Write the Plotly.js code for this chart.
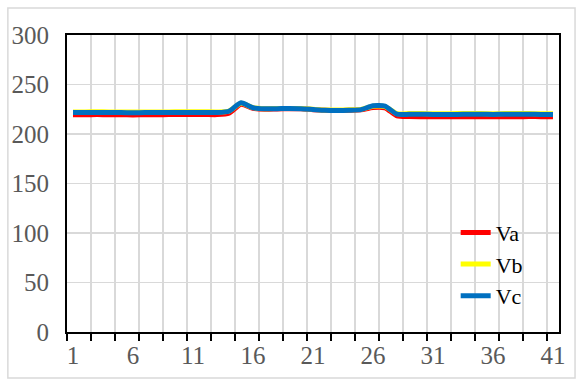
<!DOCTYPE html>
<html>
<head>
<meta charset="utf-8">
<script src="https://cdn.plot.ly/plotly-3.0.1.min.js"></script>
<style>
html,body{margin:0;padding:0;background:#fff;}
#chart{width:577px;height:381px;}
</style>
</head>
<body>
<div id="chart"></div>
<script>
var categories = [1,2,3,4,5,6,7,8,9,10,11,12,13,14,15,16,17,18,19,20,21,22,23,24,25,26,27,28,29,30,31,32,33,34,35,36,37,38,39,40,41];
var tickLabels = ['1','6','11','16','21','26','31','36','41'];
var tickPositions = [1,6,11,16,21,26,31,36,41];
var Va = [219.5,219.5,219.6,219.5,219.4,219.3,219.4,219.5,219.6,219.6,219.7,219.7,219.6,221.0,230.0,226.0,225.0,225.3,225.5,225.4,224.6,224.0,223.8,224.0,224.5,226.8,226.5,218.2,217.6,217.5,217.5,217.4,217.4,217.5,217.5,217.4,217.5,217.5,217.6,217.5,217.4];
var Vb = [222.3,222.3,222.4,222.3,222.2,222.2,222.2,222.3,222.3,222.4,222.4,222.4,222.3,223.2,231.0,226.6,225.6,225.7,225.8,225.7,225.0,224.3,224.2,224.4,224.9,228.0,227.6,220.5,220.6,220.6,220.5,220.5,220.6,220.6,220.6,220.5,220.6,220.6,220.6,220.5,220.5];
var Vc = [221.6,221.7,221.8,221.8,221.6,221.5,221.6,221.6,221.6,221.7,221.8,221.8,221.7,223.0,231.5,226.5,225.5,225.6,225.8,225.6,224.8,224.0,223.8,224.0,224.6,228.6,228.2,220.0,219.9,219.9,219.8,219.8,219.8,219.9,219.9,219.8,219.9,219.9,219.9,219.8,219.8];
var seriesNames = ['Va','Vb','Vc'];
var seriesColors = ['#FF0000','#FFFF00','#0070C0'];
var seriesData = [Va, Vb, Vc];

var traces = seriesData.map(function(d, i){
  return {
    x: categories, y: d, type: 'scatter', mode: 'lines', name: seriesNames[i],
    line: {color: seriesColors[i], width: 5, shape: 'spline', smoothing: 0.6}
  };
});

var minorVals = [];
for (var k = 0; k <= 20; k++) minorVals.push(0.5 + 2*k);

var fontFam = 'Liberation Serif';
var layout = {
  width: 577, height: 381,
  margin: {l: 67, r: 18, t: 35, b: 49},
  paper_bgcolor: '#ffffff', plot_bgcolor: '#ffffff',
  font: {family: fontFam, size: 25, color: '#595959'},
  showlegend: true,
  legend: {x: 0.79, y: 0.405, xanchor: 'left', yanchor: 'top', bgcolor: 'rgba(0,0,0,0)',
           font: {family: fontFam, size: 22, color: '#000000'}, tracegroupgap: 0},
  xaxis: {
    range: [0.5, 41.5], tickmode: 'array', tickvals: tickPositions, ticktext: tickLabels,
    ticks: '', showgrid: false, zeroline: false,
    showline: true, linecolor: '#000000', linewidth: 2, mirror: true,
    tickfont: {family: fontFam, size: 25, color: '#595959'},
    minor: {tickmode: 'array', tickvals: minorVals, ticks: 'outside', ticklen: 7, tickwidth: 2,
            tickcolor: '#000000', showgrid: true, gridcolor: '#d9d9d9', gridwidth: 1.5}
  },
  yaxis: {
    range: [0, 300], dtick: 50, tick0: 0, ticks: '', showgrid: true, gridcolor: '#d9d9d9', gridwidth: 1.5,
    zeroline: false, showline: true, linecolor: '#000000', linewidth: 2, mirror: true,
    ticklabelstandoff: 11,
    tickfont: {family: fontFam, size: 25, color: '#595959'}
  },
  shapes: [{type: 'rect', xref: 'paper', yref: 'paper', x0: -0.1202, x1: 1.0326, y0: -0.1549, y1: 1.0909,
            line: {color: '#d9d9d9', width: 1.5}, fillcolor: 'rgba(0,0,0,0)', layer: 'below'}]
};
var config = {staticPlot: true, displayModeBar: false};

function fresh(){
  Plotly.purge('chart');
  return Plotly.newPlot('chart', traces, layout, config);
}
Plotly.newPlot('chart', traces, layout, config).then(function(){
  return fresh();
}).then(function(){
  setTimeout(fresh, 60);
});
</script>
</body>
</html>
